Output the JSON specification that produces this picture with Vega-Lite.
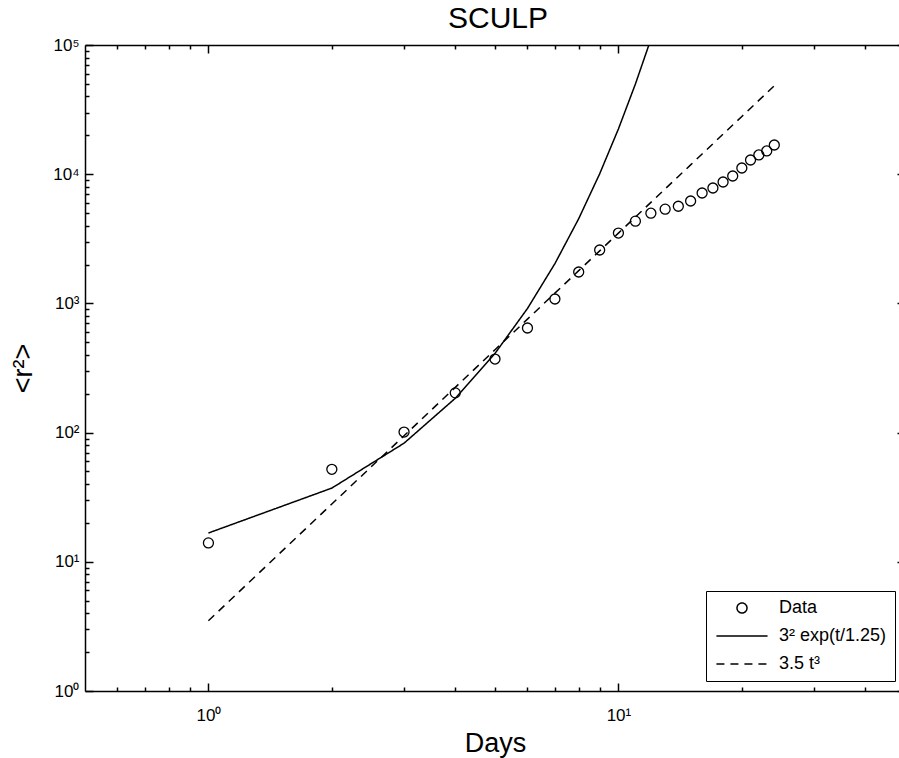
{
  "$schema": "https://vega.github.io/schema/vega-lite/v6.json",
  "width": 820,
  "height": 646,
  "autosize": {"type": "none"},
  "padding": {"left": 85, "top": 45, "right": 0, "bottom": 67},
  "background": "white",
  "title": {"text": "SCULP", "fontSize": 30, "fontWeight": "normal", "font": "Liberation Sans", "color": "black", "offset": 2, "anchor": "middle", "frame": "group", "dx": 3},
  "datasets": {
    "pts": [
      {"t": 1, "r2": 14, "series": "Data"},
      {"t": 2, "r2": 52, "series": "Data"},
      {"t": 3, "r2": 101, "series": "Data"},
      {"t": 4, "r2": 203, "series": "Data"},
      {"t": 5, "r2": 371, "series": "Data"},
      {"t": 6, "r2": 645, "series": "Data"},
      {"t": 7, "r2": 1082, "series": "Data"},
      {"t": 8, "r2": 1750, "series": "Data"},
      {"t": 9, "r2": 2590, "series": "Data"},
      {"t": 10, "r2": 3505, "series": "Data"},
      {"t": 11, "r2": 4330, "series": "Data"},
      {"t": 12, "r2": 4990, "series": "Data"},
      {"t": 13, "r2": 5360, "series": "Data"},
      {"t": 14, "r2": 5650, "series": "Data"},
      {"t": 15, "r2": 6200, "series": "Data"},
      {"t": 16, "r2": 7150, "series": "Data"},
      {"t": 17, "r2": 7820, "series": "Data"},
      {"t": 18, "r2": 8700, "series": "Data"},
      {"t": 19, "r2": 9680, "series": "Data"},
      {"t": 20, "r2": 11170, "series": "Data"},
      {"t": 21, "r2": 12880, "series": "Data"},
      {"t": 22, "r2": 14090, "series": "Data"},
      {"t": 23, "r2": 15130, "series": "Data"},
      {"t": 24, "r2": 16830, "series": "Data"}
    ],
    "expfit": [
      {"t": 1, "r2": 16.7, "series": "3² exp(t/1.25)"},
      {"t": 2, "r2": 37.2, "series": "3² exp(t/1.25)"},
      {"t": 3, "r2": 82.8, "series": "3² exp(t/1.25)"},
      {"t": 4, "r2": 184.3, "series": "3² exp(t/1.25)"},
      {"t": 5, "r2": 410.2, "series": "3² exp(t/1.25)"},
      {"t": 6, "r2": 913, "series": "3² exp(t/1.25)"},
      {"t": 7, "r2": 2032, "series": "3² exp(t/1.25)"},
      {"t": 8, "r2": 4523, "series": "3² exp(t/1.25)"},
      {"t": 9, "r2": 10067, "series": "3² exp(t/1.25)"},
      {"t": 10, "r2": 22404, "series": "3² exp(t/1.25)"},
      {"t": 11, "r2": 49861, "series": "3² exp(t/1.25)"},
      {"t": 12, "r2": 110967, "series": "3² exp(t/1.25)"}
    ],
    "powfit": [
      {"t": 1, "r2": 3.5, "series": "3.5 t³"},
      {"t": 2, "r2": 28, "series": "3.5 t³"},
      {"t": 3, "r2": 94.5, "series": "3.5 t³"},
      {"t": 4, "r2": 224, "series": "3.5 t³"},
      {"t": 5, "r2": 437.5, "series": "3.5 t³"},
      {"t": 6, "r2": 756, "series": "3.5 t³"},
      {"t": 7, "r2": 1200.5, "series": "3.5 t³"},
      {"t": 8, "r2": 1792, "series": "3.5 t³"},
      {"t": 9, "r2": 2551.5, "series": "3.5 t³"},
      {"t": 10, "r2": 3500, "series": "3.5 t³"},
      {"t": 11, "r2": 4658.5, "series": "3.5 t³"},
      {"t": 12, "r2": 6048, "series": "3.5 t³"},
      {"t": 13, "r2": 7689.5, "series": "3.5 t³"},
      {"t": 14, "r2": 9604, "series": "3.5 t³"},
      {"t": 15, "r2": 11812.5, "series": "3.5 t³"},
      {"t": 16, "r2": 14336, "series": "3.5 t³"},
      {"t": 17, "r2": 17195.5, "series": "3.5 t³"},
      {"t": 18, "r2": 20412, "series": "3.5 t³"},
      {"t": 19, "r2": 24006.5, "series": "3.5 t³"},
      {"t": 20, "r2": 28000, "series": "3.5 t³"},
      {"t": 21, "r2": 32413.5, "series": "3.5 t³"},
      {"t": 22, "r2": 37268, "series": "3.5 t³"},
      {"t": 23, "r2": 42584.5, "series": "3.5 t³"},
      {"t": 24, "r2": 48384, "series": "3.5 t³"}
    ]
  },
  "layer": [
    {
      "data": {"name": "pts"},
      "mark": {"type": "point", "filled": false, "strokeWidth": 1.3, "color": "black", "opacity": 1},
      "encoding": {
        "x": {"field": "t", "type": "quantitative",
          "scale": {"type": "log", "domain": [0.5, 50], "nice": false},
          "axis": {
            "orient": "bottom",
            "values": [0.6, 0.7, 0.8, 0.9, 1, 2, 3, 4, 5, 6, 7, 8, 9, 10, 20, 30, 40, 50],
            "tickSize": {"condition": {"test": "abs(log(datum.value)/LN10 - round(log(datum.value)/LN10)) < 1e-6", "value": -8}, "value": -4},
            "labelExpr": "abs(log(datum.value)/LN10 - round(log(datum.value)/LN10)) < 1e-6 ? '10' + ['⁰','¹','²','³','⁴','⁵'][round(log(datum.value)/LN10)] : ''",
            "labelPadding": 24, "labelOverlap": false, "labelFlush": false,
            "labelFontSize": 17, "labelFont": "Liberation Sans", "labelColor": "black",
            "grid": false, "domainColor": "black", "domainWidth": 1.5, "tickColor": "black", "tickWidth": 1.5,
            "title": "Days", "titleFontSize": 27, "titleFontWeight": "normal", "titleFont": "Liberation Sans", "titleColor": "black", "titlePadding": 3
          }
        },
        "y": {"field": "r2", "type": "quantitative",
          "scale": {"type": "log", "domain": [1, 100000], "nice": false},
          "axis": {
            "orient": "left",
            "values": [1,2,3,4,5,6,7,8,9,10,20,30,40,50,60,70,80,90,100,200,300,400,500,600,700,800,900,1000,2000,3000,4000,5000,6000,7000,8000,9000,10000,20000,30000,40000,50000,60000,70000,80000,90000,100000],
            "tickSize": {"condition": {"test": "abs(log(datum.value)/LN10 - round(log(datum.value)/LN10)) < 1e-6", "value": -8}, "value": -4},
            "labelExpr": "abs(log(datum.value)/LN10 - round(log(datum.value)/LN10)) < 1e-6 ? '10' + ['⁰','¹','²','³','⁴','⁵'][round(log(datum.value)/LN10)] : ''",
            "labelPadding": 14, "labelOverlap": false, "labelFlush": false,
            "labelFontSize": 17, "labelFont": "Liberation Sans", "labelColor": "black",
            "grid": false, "domainColor": "black", "domainWidth": 1.5, "tickColor": "black", "tickWidth": 1.5,
            "title": "<r²>", "titleFontSize": 27, "titleFontWeight": "normal", "titleFont": "Liberation Sans", "titleColor": "black", "titlePadding": 15
          }
        },
        "shape": {"field": "series", "type": "nominal",
          "scale": {"domain": ["Data", "3² exp(t/1.25)", "3.5 t³"], "range": ["circle", "M-1.42,0H1.42", "M-1.42,0H1.42"]},
          "legend": {
            "title": null, "orient": "bottom-right", "offset": 10,
            "fillColor": "white", "strokeColor": "black", "padding": 8,
            "labelFontSize": 18, "labelFont": "Liberation Sans", "labelColor": "black", "labelOffset": 18,
            "symbolOffset": 9,
            "symbolStrokeColor": "black", "symbolFillColor": "transparent", "symbolStrokeWidth": 1.5,
            "rowPadding": 0
          }
        },
        "size": {"field": "series", "type": "nominal",
          "scale": {"type": "ordinal", "domain": ["Data", "3² exp(t/1.25)", "3.5 t³"], "range": [100, 1296, 1296]}
        }
      }
    },
    {
      "data": {"name": "expfit"},
      "mark": {"type": "line", "color": "black", "strokeWidth": 1.5, "clip": true},
      "encoding": {
        "x": {"field": "t", "type": "quantitative",
          "axis": {
            "orient": "top",
            "values": [0.6, 0.7, 0.8, 0.9, 1, 2, 3, 4, 5, 6, 7, 8, 9, 10, 20, 30, 40, 50],
            "tickSize": {"condition": {"test": "abs(log(datum.value)/LN10 - round(log(datum.value)/LN10)) < 1e-6", "value": -8}, "value": -4},
            "labels": false, "grid": false, "title": null,
            "domainColor": "black", "domainWidth": 1.5, "tickColor": "black", "tickWidth": 1.5
          }
        },
        "y": {"field": "r2", "type": "quantitative",
          "axis": {
            "orient": "right",
            "values": [1,2,3,4,5,6,7,8,9,10,20,30,40,50,60,70,80,90,100,200,300,400,500,600,700,800,900,1000,2000,3000,4000,5000,6000,7000,8000,9000,10000,20000,30000,40000,50000,60000,70000,80000,90000,100000],
            "tickSize": {"condition": {"test": "abs(log(datum.value)/LN10 - round(log(datum.value)/LN10)) < 1e-6", "value": -8}, "value": -4},
            "labels": false, "grid": false, "title": null,
            "domainColor": "black", "domainWidth": 1.5, "tickColor": "black", "tickWidth": 1.5
          }
        },
        "strokeDash": {"field": "series", "type": "nominal",
          "scale": {"domain": ["Data", "3² exp(t/1.25)", "3.5 t³"], "range": [[1, 0], [1, 0], [8, 6]]}
        }
      }
    },
    {
      "data": {"name": "powfit"},
      "mark": {"type": "line", "color": "black", "strokeWidth": 1.5, "clip": true},
      "encoding": {
        "x": {"field": "t", "type": "quantitative", "axis": null},
        "y": {"field": "r2", "type": "quantitative", "axis": null},
        "strokeDash": {"field": "series", "type": "nominal"}
      }
    }
  ],
  "resolve": {"axis": {"x": "independent", "y": "independent"}},
  "config": {
    "view": {"stroke": null},
    "font": "Liberation Sans"
  }
}
